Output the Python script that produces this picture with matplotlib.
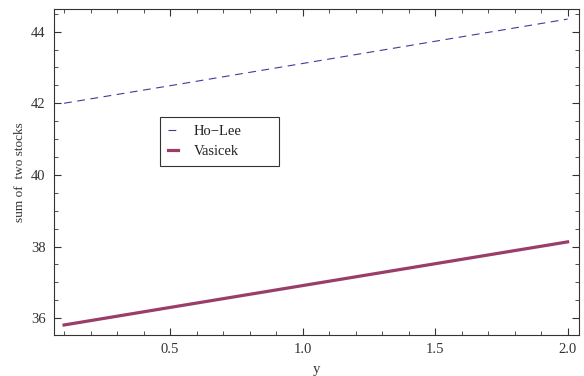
import numpy as np
import matplotlib.pyplot as plt
from matplotlib.ticker import MultipleLocator

plt.rcParams['font.family'] = ['Liberation Serif', 'DejaVu Serif']

# values
x_vals = [0.1, 0.5, 1.0, 1.5, 2.0]
ho_lee = [42.0, 42.49, 43.11, 43.73, 44.35]
vasicek = [35.81, 36.30, 36.91, 37.52, 38.13]

fig = plt.figure(figsize=(5.84, 3.76), dpi=100)
ax = fig.add_axes([0.0925, 0.109, 0.8985, 0.866])

ax.plot(x_vals, ho_lee, color='#3d3d99', lw=0.8, dashes=(7, 5), label='Ho\u2212Lee')
ax.plot(x_vals, vasicek, color='#993d6b', lw=2.3, label='Vasicek')

ax.set_xlim(0.062, 2.042)
ax.set_ylim(35.53, 44.62)
ax.xaxis.set_major_locator(MultipleLocator(0.5))
ax.xaxis.set_minor_locator(MultipleLocator(0.1))
ax.yaxis.set_major_locator(MultipleLocator(2))
ax.yaxis.set_minor_locator(MultipleLocator(0.5))
ax.set_xticks([0.5, 1.0, 1.5, 2.0])
ax.set_xticklabels(['0.5', '1.0', '1.5', '2.0'])

ax.tick_params(which='both', direction='in', top=True, right=True,
               labelsize=10.5, colors='#333333', pad=6)
ax.tick_params(which='major', length=5, width=0.8)
ax.tick_params(which='minor', length=3, width=0.6)
for s in ax.spines.values():
    s.set_color('#333333')
    s.set_linewidth(0.8)

ax.set_ylabel('sum of  two stocks', fontsize=9.5, color='#333333', labelpad=4)
ax.set_xlabel('y', fontsize=10.5, color='#333333', labelpad=4.5)

# legend box spans about x 160..279, y 117..165 px in the reference
leg = ax.legend(loc='upper left', bbox_to_anchor=(0.202, 0.523, 0.227, 0.147),
                mode='expand', fontsize=10.5,
                handlelength=0.65, handletextpad=1.1, fancybox=False,
                edgecolor='#333333', framealpha=1, borderpad=0.55,
                labelspacing=0.45, borderaxespad=0)
leg.get_frame().set_linewidth(0.8)
for t in leg.get_texts():
    t.set_color('#222222')

fig.savefig('out.png', dpi=100)
